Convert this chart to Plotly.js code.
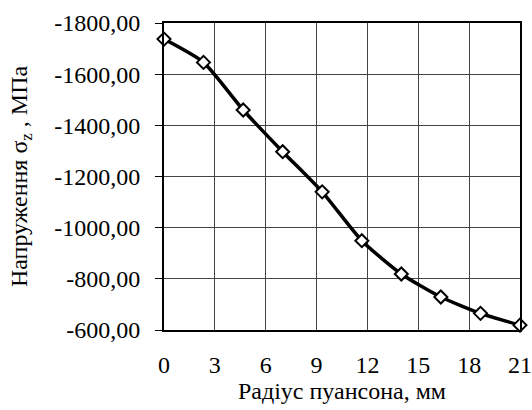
<!DOCTYPE html>
<html><head><meta charset="utf-8">
<script src="https://cdn.plot.ly/plotly-3.0.1.min.js"></script>
<style>html,body{margin:0;padding:0;background:#fff}</style>
</head><body><div id="chart" style="width:532px;height:410px"></div>
<script>
const radius = [0, 2.33, 4.67, 7.0, 9.33, 11.67, 14.0, 16.33, 18.67, 21.0];
const stress = [-1737, -1646, -1460, -1297, -1140, -949, -819, -729, -665, -619];
const xTicks = [0, 3, 6, 9, 12, 15, 18, 21];
const yTicks = [-1800, -1600, -1400, -1200, -1000, -800, -600];
const yTickText = ['-1800,00', '-1600,00', '-1400,00', '-1200,00', '-1000,00', '-800,00', '-600,00'];

const FAM = 'Liberation Serif, Times New Roman, serif';
function f(s) { return {family: FAM, size: s, color: '#000'}; }

Plotly.newPlot('chart', [{
  x: radius, y: stress, type: 'scatter', mode: 'lines+markers',
  line: {color: '#000', width: 3.5, shape: 'spline', smoothing: 0.6},
  marker: {symbol: 'diamond', size: 10, color: '#fff', line: {color: '#000', width: 2}},
  cliponaxis: false, showlegend: false
}], {
  width: 532, height: 410,
  margin: {l: 164, r: 12, t: 23, b: 80},
  paper_bgcolor: '#fff', plot_bgcolor: '#fff',
  font: f(24),
  xaxis: {
    range: [0, 21], tickvals: xTicks, ticks: '', showgrid: true, gridcolor: '#444', gridwidth: 1,
    showline: true, linecolor: '#000', linewidth: 2, mirror: true, zeroline: false,
    ticklabelstandoff: 12, tickfont: f(24),
    title: {text: 'Радіус пуансона, мм', font: f(24), standoff: 0}
  },
  yaxis: {
    range: [-600, -1800], tickvals: yTicks, ticktext: yTickText, ticks: 'outside', ticklen: 7, tickcolor: '#000',
    showgrid: true, gridcolor: '#444', gridwidth: 1,
    showline: true, linecolor: '#000', linewidth: 2, mirror: true, zeroline: false,
    ticklabelstandoff: 10, tickfont: f(24),
    title: {text: 'Напруження σ<sub>z</sub> , МПа', font: f(24), standoff: 20}
  }
}, {staticPlot: true});
</script></body></html>
